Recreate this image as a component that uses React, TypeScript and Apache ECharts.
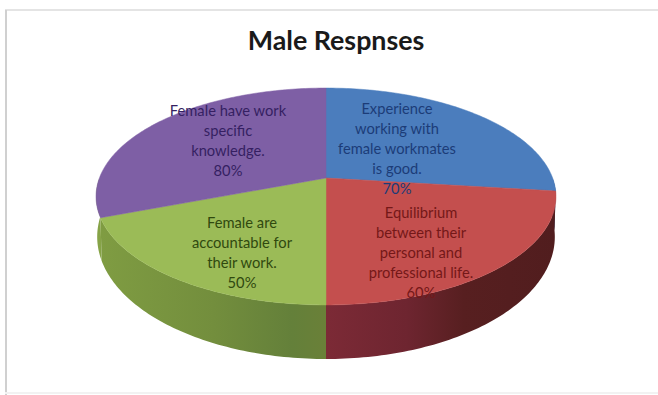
import React, { useEffect, useRef } from "react";
import * as echarts from "echarts";

const chartTitle = "Male Respnses";
const sliceNames = [
  "Experience\nworking with\nfemale workmates\nis good.",
  "Equilibrium\nbetween their\npersonal and\nprofessional life.",
  "Female are\naccountable for\ntheir work.",
  "Female have work\nspecific\nknowledge.",
];
const sliceValues = [70, 60, 50, 80];

const topColors = ["#4b7dbd", "#c44f4e", "#9bbb57", "#7e5fa5"];
const labelColors = ["#1c3c78", "#741818", "#30490f", "#351f62"];
const wallColors: [number, string][][] = [
  [[0, "#3a5f8e"], [1, "#2f4f78"]],
  [[0, "#7c2a36"], [0.35, "#6e2530"], [0.6, "#571f20"], [1, "#511d1e"]],
  [[0, "#7f9c42"], [0.5, "#738e3d"], [0.85, "#64803a"], [1, "#6a8038"]],
  [[0, "#86a347"], [1, "#86a347"]],
];

// Projection of the tilted disc: the rear rim sits closer to the apex than the front rim.
const apexX = 326;
const apexY = 178;
const radiusX = 226.6;
const radiusY = 105.3;
const perspective = 0.1705;
const wallBase = 38;
const wallSlope = 13.3;
const baseShrink = 0.995;

// Label centres, measured from the apex.
const labelOffsets = [
  [71, -30.5],
  [95, 74],
  [-84, 74],
  [-98, -38],
];

const total = sliceValues.reduce((a, b) => a + b, 0);

function sliceRange(index: number) {
  const before = sliceValues.slice(0, index).reduce((a, b) => a + b, 0);
  return [
    (before / total) * Math.PI * 2,
    ((before + sliceValues[index]) / total) * Math.PI * 2,
  ];
}

function topRim(t: number): [number, number] {
  const u = Math.sin(t);
  const v = -Math.cos(t);
  const w = 1 - perspective * v;
  return [apexX + (radiusX * u) / w, apexY + (radiusY * v) / w];
}

function baseRim(t: number): [number, number] {
  const [x, y] = topRim(t);
  const v = -Math.cos(t);
  const w = 1 - perspective * v;
  return [
    apexX + (x - apexX) * baseShrink,
    y + wallBase + (wallSlope * v) / w,
  ];
}

function arcPoints(from: number, to: number, rim: (t: number) => [number, number]) {
  const steps = Math.max(2, Math.ceil(((to - from) * 180) / Math.PI));
  const points: [number, number][] = [];
  for (let i = 0; i <= steps; i++) {
    points.push(rim(from + ((to - from) * i) / steps));
  }
  return points;
}

function renderWall(params: any) {
  const i = params.dataIndex;
  const [start, end] = sliceRange(i);
  // Only the front half of the rim faces the viewer.
  const from = Math.max(start, Math.PI * 0.5);
  const to = Math.min(end, Math.PI * 1.5);
  if (to <= from) return { type: "group", children: [] };
  const points = [
    ...arcPoints(from, to, topRim),
    ...arcPoints(from, to, baseRim).reverse(),
  ];
  return {
    type: "polygon",
    shape: { points },
    style: {
      fill: new echarts.graphic.LinearGradient(
        0, 0, 1, 0,
        wallColors[i].map(([offset, color]) => ({ offset, color })),
      ),
    },
  };
}

function renderFace(params: any) {
  const i = params.dataIndex;
  const [start, end] = sliceRange(i);
  return {
    type: "polygon",
    shape: { points: [[apexX, apexY], ...arcPoints(start, end, topRim)] },
    style: { fill: topColors[i], stroke: topColors[i], lineWidth: 0.5 },
  };
}

function renderLabel(params: any, api: any) {
  const i = params.dataIndex;
  return {
    type: "text",
    style: {
      text: `${sliceNames[i]}\n${api.value(0)}%`,
      x: apexX + labelOffsets[i][0],
      y: apexY + labelOffsets[i][1],
      align: "center",
      verticalAlign: "middle",
      fontFamily: "Lato",
      fontSize: 14.7,
      lineHeight: 20,
      fill: labelColors[i],
    },
  };
}

export default function App() {
  const ref = useRef<HTMLDivElement>(null);

  useEffect(() => {
    document.body.style.margin = "0";
    const chart = echarts.init(ref.current!, undefined, { renderer: "svg" });
    const data = sliceValues.map((v) => [v]);
    const layer = (renderItem: any) => ({
      type: "custom",
      coordinateSystem: "none",
      renderItem,
      data,
      silent: true,
    });
    chart.setOption({
      animation: false,
      backgroundColor: "#ffffff",
      title: {
        text: chartTitle,
        left: 331,
        top: 21,
        textAlign: "center",
        textStyle: {
          fontFamily: "Lato",
          fontWeight: "bold",
          fontSize: 26.8,
          color: "#1a1a1a",
        },
      },
      graphic: [
        { type: "line", shape: { x1: 5, y1: 10, x2: 658, y2: 10 }, style: { stroke: "#e4e4e4", lineWidth: 2 } },
        { type: "line", shape: { x1: 6, y1: 10, x2: 6, y2: 395 }, style: { stroke: "#d0d0d0", lineWidth: 2 } },
        { type: "line", shape: { x1: 5, y1: 393, x2: 658, y2: 393 }, style: { stroke: "#f2f2f2", lineWidth: 2 } },
      ],
      series: [layer(renderWall), layer(renderFace), layer(renderLabel)],
    });
    return () => chart.dispose();
  }, []);

  return <div ref={ref} style={{ width: 658, height: 395 }} />;
}
